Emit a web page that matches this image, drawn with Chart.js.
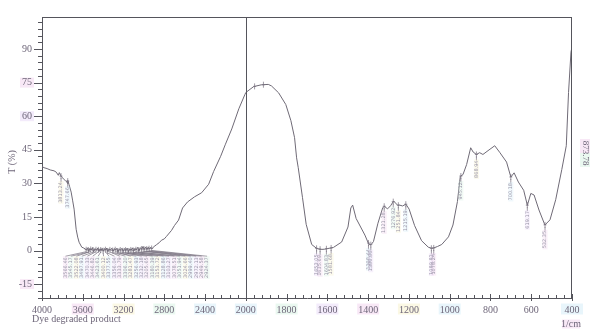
<!DOCTYPE html>
<html>
<head>
<meta charset="utf-8">
<script src="https://cdn.jsdelivr.net/npm/chart.js@4.4.1/dist/chart.umd.min.js"></script>
<style>
  html, body { margin: 0; padding: 0; background: #fff; }
  #wrap { width: 599px; height: 335px; }
</style>
</head>
<body>
<div id="wrap"><canvas id="ftirChart" width="599" height="335"></canvas></div>
<script>
// Spectrum: wavenumber (1/cm) and transmittance T (%)
const wavenumbers = [
  4000, 3980, 3950, 3920, 3882, 3860, 3840, 3830, 3813, 3800, 3790, 3770, 3760, 3750, 3747, 3735,
  3714, 3700, 3685, 3665, 3650, 3636, 3610, 3590,
  3564, 3552, 3541, 3530, 3518, 3505, 3493, 3480, 3466, 3453, 3441, 3430, 3421, 3410, 3398, 3386,
  3375, 3365, 3354, 3342, 3331, 3316, 3302, 3290, 3279, 3266, 3254, 3242, 3230, 3216, 3203, 3190,
  3178, 3165, 3151, 3139, 3126, 3113, 3101, 3088, 3076, 3062, 3049, 3036, 3022, 3010, 2997, 2984,
  2970, 2958, 2947, 2935, 2922,
  2900, 2877, 2850, 2828, 2800, 2779, 2729, 2700, 2660, 2621, 2572, 2503, 2434, 2365, 2316, 2247,
  2200, 2138, 2069, 2010, 2000,
  1962, 1925, 1890, 1874, 1839, 1804, 1779, 1761, 1751, 1743, 1722, 1704, 1677, 1652, 1630, 1613,
  1600, 1589, 1570, 1530, 1499, 1485, 1476, 1459, 1442, 1416, 1400, 1391, 1385, 1374, 1352, 1329,
  1321, 1305, 1290, 1275, 1255, 1246, 1231, 1215, 1199, 1172, 1138, 1105, 1089, 1080, 1060, 1039,
  1006, 984, 962, 948, 935, 917, 897, 885, 869, 853, 837, 812, 779, 755, 721, 700,
  684, 663, 637, 619, 602, 586, 562, 533, 508, 480, 450, 428, 417, 405, 400
];
const transmittance = [
  37.5, 37.0, 36.6, 36.0, 35.6, 35.0, 33.6, 34.8, 33.2, 32.6, 32.0, 31.2, 31.0, 30.0, 31.3, 29.5,
  26.1, 22.5, 18.5, 9.5, 6.0, 3.7, 1.5, 1.1,
  0.3, 1.2, -0.4, 1.0, 0.2, 1.3, -0.6, 0.9, 0.1, 1.1, -0.5, 0.8, 0.0, 1.0, -0.3, 0.9,
  0.2, 1.1, -0.5, 0.8, 0.1, 1.0, -0.4, 0.9, 0.2, 1.0, -0.6, 0.8, 0.1, 1.0, -0.4, 0.9,
  0.0, 1.1, -0.5, 0.8, 0.1, 1.2, -0.3, 1.0, 0.2, 1.4, -0.2, 1.3, 0.5, 1.8, 0.4, 1.6,
  0.5, 1.5, 0.6, 1.5, 0.8,
  1.8, 2.6, 3.5, 4.6, 5.2, 6.3, 9.0, 11.2, 13.6, 19.0, 21.7, 24.0, 25.8, 29.6, 35.3, 42.1,
  47.5, 54.3, 63.3, 69.6, 70.6,
  73.2, 74.0, 74.2, 73.5, 70.4, 65.2, 58.0, 50.4, 41.4, 37.0, 23.6, 11.7, 2.7, 0.9, 0.5, 0.6,
  0.9, 1.0, 1.4, 3.8, 10.5, 19.0, 20.3, 14.3, 11.4, 6.9, 3.5, 2.5, 2.7, 4.0, 12.2, 19.0,
  19.8, 18.6, 20.0, 22.1, 20.2, 20.3, 19.9, 20.7, 18.5, 11.1, 4.4, 1.5, 1.0, 1.1, 1.8, 2.7,
  6.1, 11.4, 21.9, 33.1, 33.9, 38.4, 45.9, 44.0, 42.9, 43.7, 42.9, 44.6, 46.8, 43.9, 39.5, 32.8,
  34.7, 30.6, 26.9, 20.2, 25.5, 24.8, 18.1, 11.4, 13.7, 22.7, 36.2, 46.8, 70.6, 88.6, 91.0
];

// axis ticks
const yMajorTicks = [-15, 0, 15, 30, 45, 60, 75, 90];
const xMajorTicks = [4000, 3600, 3200, 2800, 2400, 2000, 1800, 1600, 1400, 1200, 1000, 800, 600, 400];

// peak picks: the crowded O-H/N-H group fans out to a row of labels
const clusterPeaks = [
  3566.46, 3545.17, 3522.08, 3497.91, 3470.33, 3446.82, 3423.61, 3400.12, 3377.55, 3356.04,
  3333.79, 3306.20, 3281.47, 3256.93, 3232.18, 3205.65, 3180.39, 3153.72, 3128.86, 3103.27,
  3078.51, 3051.94, 3024.66, 2999.40, 2972.13, 2949.58, 2924.37
];
const singlePeaks = [
  3813.24, 3747.66, 1653.05, 1635.69, 1604.83, 1581.68, 1398.44, 1386.86, 1321.28, 1276.92,
  1251.84, 1215.19, 1089.82, 1078.24, 945.12, 868.94, 700.18, 619.17, 532.35
];
const topPeaks = [1957.14, 1913.74];

// the instrument plots 4000-2000 at half the scale of 2000-400
function toPlotX(wn) {
  return wn >= 2000 ? (4000 - wn) / 2 : 1000 + (2000 - wn);
}
function fromPlotX(u) {
  return u <= 1000 ? 4000 - 2 * u : 2000 - (u - 1000);
}
function transAt(wn) {
  for (let i = 1; i < wavenumbers.length; i++) {
    if (wavenumbers[i] <= wn) {
      const w0 = wavenumbers[i - 1], w1 = wavenumbers[i];
      const t = (w0 - wn) / (w0 - w1);
      return transmittance[i - 1] + t * (transmittance[i] - transmittance[i - 1]);
    }
  }
  return transmittance[transmittance.length - 1];
}

const points = wavenumbers.map((wn, i) => ({ x: toPlotX(wn), y: transmittance[i] }));
const labelColor = '#6e6679';
const serif = "'Liberation Serif', 'DejaVu Serif', serif";
const pastel = ['rgba(240,205,236,0.45)', 'rgba(208,240,222,0.45)', 'rgba(246,240,196,0.45)', 'rgba(205,232,246,0.45)', 'rgba(228,210,246,0.45)'];
const tagTint = ['rgba(240,205,236,0.3)', 'rgba(208,240,222,0.3)', 'rgba(246,240,196,0.3)', 'rgba(205,232,246,0.3)', 'rgba(228,210,246,0.3)'];

// faint highlighter patches seen on the scanned labels
const highlights = {
  id: 'highlights',
  beforeDraw(chart) {
    const { ctx, scales: { x, y } } = chart;
    ctx.save();
    const patch = (cx, cy, w, h, c) => { ctx.fillStyle = c; ctx.fillRect(cx - w / 2, cy - h / 2, w, h); };
    const yb = chart.chartArea.bottom;
    [[75, pastel[0]], [60, pastel[4]], [-15, pastel[0]]].forEach(([v, c]) => patch(27, y.getPixelForValue(v), 14, 10, c));
    [[3600, pastel[0]], [3200, pastel[2]], [2800, pastel[1]], [2400, pastel[3]], [2000, pastel[3]],
     [1800, pastel[1]], [1600, pastel[4]], [1400, pastel[0]], [1200, pastel[2]], [1000, pastel[3]], [400, pastel[3]]]
      .forEach(([wn, c]) => patch(x.getPixelForValue(toPlotX(wn)), yb + 11, 22, 11, c));
    patch(571, 324, 18, 9, pastel[0]);
    ctx.restore();
  }
};

const frameAndTicks = {
  id: 'frameAndTicks',
  afterDraw(chart) {
    const { ctx, chartArea: a, scales: { x, y } } = chart;
    ctx.save();
    ctx.strokeStyle = '#55555c';
    ctx.lineWidth = 1;
    ctx.beginPath();
    ctx.moveTo(a.left, a.top + 0.5); ctx.lineTo(a.right, a.top + 0.5);
    ctx.moveTo(a.right - 0.5, a.top); ctx.lineTo(a.right - 0.5, a.bottom);
    const xd = Math.round(x.getPixelForValue(toPlotX(2000))) + 0.5;
    ctx.moveTo(xd, a.top); ctx.lineTo(xd, a.bottom + 3);
    ctx.stroke();

    // y ticks: minor every 3, major every 15
    ctx.beginPath();
    for (let v = -21; v <= 102; v += 3) {
      const py = Math.round(y.getPixelForValue(v)) + 0.5;
      const len = v % 15 === 0 ? 8 : 4;
      ctx.moveTo(a.left - len, py); ctx.lineTo(a.left, py);
    }
    // x ticks: minor every 40 plot units
    for (let u = 0; u <= 2600; u += 40) {
      const px = Math.round(x.getPixelForValue(u)) + 0.5;
      const major = u % 200 === 0;
      ctx.moveTo(px, a.bottom - (major ? 4 : 3)); ctx.lineTo(px, a.bottom + (major ? 3 : 0));
    }
    ctx.stroke();

    // axis texts
    ctx.fillStyle = labelColor;
    ctx.font = '10px ' + serif;
    ctx.textBaseline = 'middle';
    ctx.textAlign = 'left';
    ctx.fillText('Dye degraded product', 32, 319);
    ctx.textAlign = 'center';
    ctx.fillText('1/cm', 571, 324);
    ctx.save();
    ctx.translate(12, 162);
    ctx.rotate(-Math.PI / 2);
    ctx.fillText('T (%)', 0, 0);
    ctx.restore();
    ctx.save();
    ctx.translate(585, 153);
    ctx.rotate(Math.PI / 2);
    ctx.fillStyle = pastel[0];
    ctx.fillRect(-14, -5, 14, 10);
    ctx.fillStyle = pastel[1];
    ctx.fillRect(0, -5, 14, 10);
    ctx.fillStyle = labelColor;
    ctx.font = '9px ' + serif;
    ctx.fillText('873.78', 0, 0);
    ctx.restore();
    ctx.restore();
  }
};

const peakPicks = {
  id: 'peakPicks',
  afterDatasetsDraw(chart) {
    const { ctx, scales: { x, y } } = chart;
    ctx.save();
    ctx.lineWidth = 0.7;
    ctx.strokeStyle = '#77707e';
    ctx.font = '5px ' + "'DejaVu Sans', sans-serif";
    ctx.textBaseline = 'middle';
    const marker = (px, py) => {
      ctx.beginPath();
      ctx.moveTo(px, py - 3); ctx.lineTo(px, py + 3);
      ctx.moveTo(px - 1.5, py); ctx.lineTo(px + 1.5, py);
      ctx.stroke();
    };
    const label = (text, lx, ly, i) => {
      ctx.save();
      ctx.translate(lx, ly);
      ctx.rotate(-Math.PI / 2);
      const w = ctx.measureText(text).width;
      ctx.fillStyle = tagTint[i % tagTint.length];
      ctx.fillRect(-w - 1, -2.5, w + 2, 5);
      ctx.fillStyle = '#9a96a8';
      ctx.textAlign = 'right';
      ctx.fillText(text, 0, 0);
      ctx.restore();
    };
    const u0 = toPlotX(3770), u1 = toPlotX(2380);
    const rowTop = y.getPixelForValue(-3);
    clusterPeaks.forEach((wn, i) => {
      const px = x.getPixelForValue(toPlotX(wn));
      const py = y.getPixelForValue(transAt(wn));
      const lx = x.getPixelForValue(u0 + i * (u1 - u0) / (clusterPeaks.length - 1));
      marker(px, py);
      ctx.beginPath();
      ctx.moveTo(px, py + 2); ctx.lineTo(lx, rowTop - 1);
      ctx.stroke();
      label(wn.toFixed(2), lx, rowTop, i);
    });
    singlePeaks.forEach((wn, i) => {
      const px = x.getPixelForValue(toPlotX(wn));
      const py = y.getPixelForValue(transAt(wn));
      marker(px, py);
      ctx.beginPath();
      ctx.moveTo(px, py + 2); ctx.lineTo(px, py + 6);
      ctx.stroke();
      label(wn.toFixed(2), px, py + 6, i + 2);
    });
    topPeaks.forEach(wn => {
      marker(x.getPixelForValue(toPlotX(wn)), y.getPixelForValue(transAt(wn)));
    });
    ctx.restore();
  }
};

new Chart(document.getElementById('ftirChart'), {
  type: 'line',
  data: {
    datasets: [{
      label: 'Dye degraded product',
      data: points,
      borderColor: '#6f6a76',
      borderWidth: 1,
      pointRadius: 0,
      tension: 0,
      fill: false
    }]
  },
  options: {
    responsive: false,
    devicePixelRatio: 1,
    animation: false,
    layout: { padding: { left: 0, top: 17, right: 27, bottom: 0 } },
    plugins: { legend: { display: false }, tooltip: { enabled: false } },
    scales: {
      x: {
        type: 'linear',
        min: 0,
        max: 2600,
        afterBuildTicks: s => { s.ticks = xMajorTicks.map(wn => ({ value: toPlotX(wn) })); },
        afterFit: s => { s.height = 37; },
        ticks: {
          autoSkip: false,
          maxRotation: 0,
          padding: 6,
          color: labelColor,
          font: { family: serif, size: 10 },
          callback: v => String(fromPlotX(v))
        },
        grid: { drawOnChartArea: false, drawTicks: false },
        border: { color: '#55555c', width: 1 }
      },
      y: {
        min: -21.2,
        max: 104.3,
        afterBuildTicks: s => { s.ticks = yMajorTicks.map(v => ({ value: v })); },
        afterFit: s => { s.width = 42; },
        ticks: {
          autoSkip: false,
          padding: 10,
          color: labelColor,
          font: { family: serif, size: 10 },
          callback: v => String(v)
        },
        grid: { drawOnChartArea: false, drawTicks: false },
        border: { color: '#55555c', width: 1 }
      }
    }
  },
  plugins: [highlights, peakPicks, frameAndTicks]
});
</script>
</body>
</html>
